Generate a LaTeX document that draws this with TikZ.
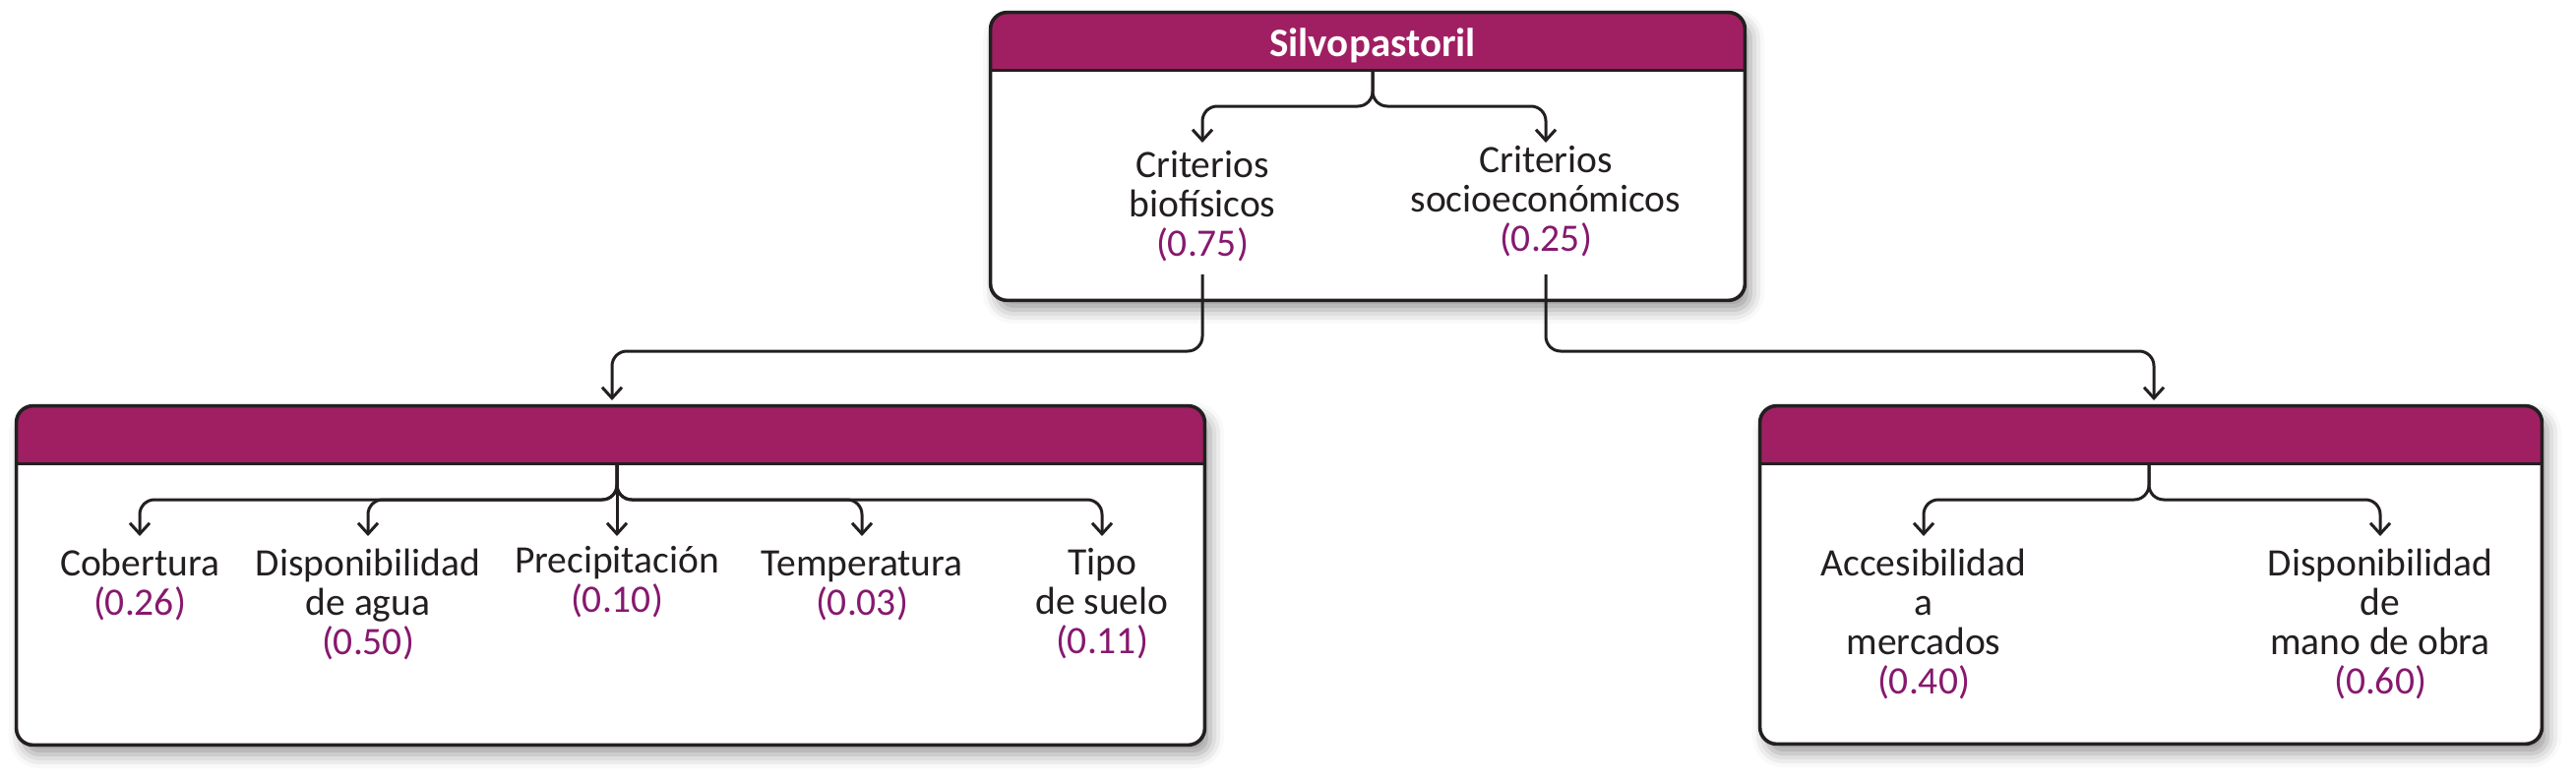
\documentclass[tikz,border=0pt]{standalone}
\usepackage{fontspec}
\setmainfont{Carlito}
\usetikzlibrary{arrows.meta,shadows.blur,calc}
\definecolor{hdr}{RGB}{160,31,98}
\definecolor{num}{RGB}{135,24,110}
\definecolor{ink}{RGB}{35,31,32}
\newcommand{\wt}[1]{\textcolor{num}{#1}}
\begin{document}
\begin{tikzpicture}[x=0.5pt,y=-0.5pt,
  panel/.style={rectangle, rounded corners=8.5pt, fill=white, inner sep=0pt,
    blur shadow={shadow xshift=3pt, shadow yshift=-5pt, shadow blur radius=7pt, shadow opacity=40}},
  border/.style={draw=ink, line width=1.8pt, rounded corners=8.5pt},
  hline/.style={draw=ink, line width=1.8pt},
  label/.style={inner sep=0pt, align=center, anchor=base, text=ink,
    font=\fontsize{19.75}{20}\selectfont},
  titletext/.style={inner sep=0pt, anchor=base, text=white,
    font=\bfseries\fontsize{20.5}{22}\selectfont},
  conn/.style={draw=ink, line width=1.5pt, rounded corners=7.5pt,
    -{Straight Barb[length=5.5pt,width=10pt,line width=1.5pt]}},
]
\useasboundingbox (0,0) rectangle (2618,793);

% ---------- boxes ----------
\node[panel, minimum width=383pt, minimum height=146pt] (top) at (1390,159) {};
\node[panel, minimum width=603.5pt, minimum height=172pt] (lbox) at (620.5,585) {};
\node[panel, minimum width=397pt, minimum height=171.5pt] (rbox) at (2186,584.5) {};

\foreach \b in {top,lbox,rbox}{
  \begin{scope}
    \clip[rounded corners=8.5pt] (\b.north west) rectangle (\b.south east);
    \fill[hdr] (\b.north west) rectangle ($(\b.north east)+(0,59)$);
  \end{scope}
  \draw[hline] ($(\b.north west)+(0,59)$) -- ($(\b.north east)+(0,59)$);
  \draw[border] (\b.north west) rectangle (\b.south east);
}

% ---------- texts (anchored at the baseline of the last line) ----------
\node[titletext] (title) at (1395,57) {Silvopastoril};

\node[label] (bio) at (1222,260) {Criterios\\biofísicos\\\wt{(0.75)}};
\node[label] (socio) at (1571,255) {Criterios\\socioeconómicos\\\wt{(0.25)}};

\node[label] (cob) at (142,625) {Cobertura\\\wt{(0.26)}};
\node[label] (dispa) at (374,665) {Disponibilidad\\de agua\\\wt{(0.50)}};
\node[label] (prec) at (627,622) {Precipitación\\\wt{(0.10)}};
\node[label] (temp) at (876,625) {Temperatura\\\wt{(0.03)}};
\node[label] (tipo) at (1120,664) {Tipo\\de suelo\\\wt{(0.11)}};

\node[label] (acc) at (1955,705) {Accesibilidad\\a\\mercados\\\wt{(0.40)}};
\node[label] (dispm) at (2419,705) {Disponibilidad\\de\\mano de obra\\\wt{(0.60)}};

% ---------- helper coordinates ----------
\coordinate (ts) at (1395,72);
\coordinate (tsplit) at (1395,108);
\coordinate (trow) at (0,145);
\coordinate (ls) at (627,472);
\coordinate (lsplit) at (627,508);
\coordinate (rs) at (2184,472);
\coordinate (rsplit) at (2184,508);
\coordinate (brow) at (0,545);
\coordinate (outrow) at (0,279);
\coordinate (mid) at (0,357);
\coordinate (lin) at (622,407);
\coordinate (rin) at (2189,407);

% ---------- connectors ----------
\draw[conn] (ts) |- (tsplit -| bio.north) -- (bio.north |- trow);
\draw[conn] (ts) |- (tsplit -| socio.north) -- (socio.north |- trow);

\draw[conn] (bio.south |- outrow) -- (bio.south |- mid) -| (lin);
\draw[conn] (socio.south |- outrow) -- (socio.south |- mid) -| (rin);

\draw[conn] (ls) |- (lsplit -| cob.north) -- (cob.north |- brow);
\draw[conn] (ls) |- (lsplit -| dispa.north) -- (dispa.north |- brow);
\draw[conn] (ls) -- (prec.north |- brow);
\draw[conn] (ls) |- (lsplit -| temp.north) -- (temp.north |- brow);
\draw[conn] (ls) |- (lsplit -| tipo.north) -- (tipo.north |- brow);

\draw[conn] (rs) |- (rsplit -| acc.north) -- (acc.north |- brow);
\draw[conn] (rs) |- (rsplit -| dispm.north) -- (dispm.north |- brow);
\end{tikzpicture}
\end{document}
